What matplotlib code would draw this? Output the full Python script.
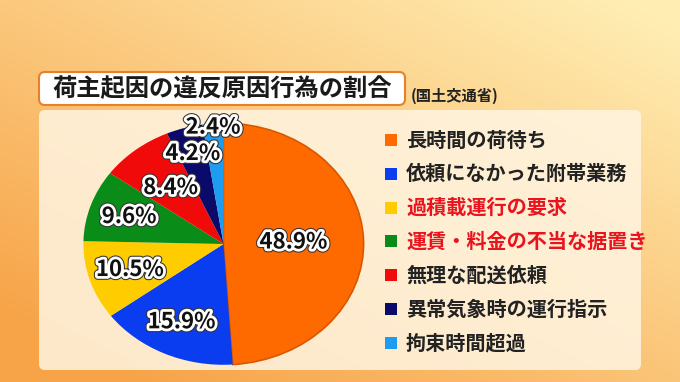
import numpy as np
import matplotlib
matplotlib.use("Agg")
import matplotlib.pyplot as plt
import matplotlib.patheffects as pe
from matplotlib.patches import FancyBboxPatch, Rectangle

plt.rcParams['font.family'] = ['Noto Sans CJK JP', 'DejaVu Sans']

title = "荷主起因の違反原因行為の割合"
source = "(国土交通省)"
categories = ["長時間の荷待ち", "依頼になかった附帯業務", "過積載運行の要求",
              "運賃・料金の不当な据置き", "無理な配送依頼", "異常気象時の運行指示",
              "拘束時間超過"]
shares = [48.9, 15.9, 10.5, 9.6, 8.4, 4.2, 2.4]

colors = ["#ff6a00", "#0a3cf0", "#ffcc00", "#0a8c18", "#f00a0a", "#0a0a6a", "#1e9cf0"]
text_colors = ["#222222", "#222222", "#e8141e", "#e8141e", "#222222", "#222222", "#222222"]
label_r = [0.5, 0.71, 0.70, 0.71, 0.6, 0.78, 0.97]

W, H = 680, 382
fig = plt.figure(figsize=(W / 100, H / 100), dpi=100)

# background gradient
bg = fig.add_axes([0, 0, 1, 1])
yy, xx = np.mgrid[0:1:200j, 0:1:360j]
t = np.clip(0.55 * xx + 0.6 * (1 - yy) - 0.1, 0, 1)  # yy=0 top
c0 = np.array([0.97, 0.64, 0.28])
c1 = np.array([1.0, 0.93, 0.70])
img = c0[None, None, :] * (1 - t[..., None]) + c1[None, None, :] * t[..., None]
bg.imshow(img, extent=[0, W, 0, H], aspect="auto", origin="upper")
bg.set_xlim(0, W); bg.set_ylim(0, H); bg.axis("off")

# cream panel
bg.add_patch(FancyBboxPatch((39, H - 370), 602, 260, boxstyle="round,pad=0,rounding_size=6",
                            facecolor="#fff5e2", edgecolor="none", alpha=0.85, zorder=2))
# title box
bg.add_patch(FancyBboxPatch((39, H - 105), 366, 33, boxstyle="round,pad=0,rounding_size=6",
                            facecolor="white", edgecolor="#e8802a", linewidth=1.5, zorder=3))
bg.text(222, H - 89, title, fontsize=17.5, fontweight="bold", color="#1a1a1a",
        ha="center", va="center", zorder=4)
bg.text(411, H - 96, source, fontsize=11, fontweight="bold", color="#222222",
        ha="left", va="center", zorder=4)

# legend
for i, (cat, col, tc) in enumerate(zip(categories, colors, text_colors)):
    y = H - (140 + i * 33.8)
    bg.add_patch(Rectangle((385, y - 6), 12, 12, facecolor=col, edgecolor="none", zorder=4))
    bg.text(406, y, cat, fontsize=14.5, fontweight="bold", color=tc,
            ha="left", va="center", zorder=4)

# pie (elliptical)
ax = fig.add_axes([82 / W, (H - 366) / H, 283 / W, 244 / H])
wedges, _ = ax.pie(shares, colors=colors, startangle=90, counterclock=False,
                   wedgeprops=dict(linewidth=0))
wedges[0].set_edgecolor("#d85800")
wedges[0].set_linewidth(1.2)
ax.set_aspect("auto")
ax.set_xlim(-1.01, 1.01); ax.set_ylim(-1.01, 1.01)
ax.axis("off")

cum = np.cumsum([0] + shares[:-1])
total = sum(shares)
effects = [pe.Stroke(linewidth=5.5, foreground="#333333"),
           pe.Stroke(linewidth=4, foreground="white"), pe.Normal()]
for v, c, r in zip(shares, cum, label_r):
    ang = np.deg2rad(90 - (c + v / 2) / total * 360)
    ax.text(r * np.cos(ang), r * np.sin(ang), f"{v:.1f}%", fontsize=16,
            fontweight="bold", color="#111111", ha="center", va="center",
            path_effects=effects, zorder=5)

fig.savefig("out.png", dpi=100)
